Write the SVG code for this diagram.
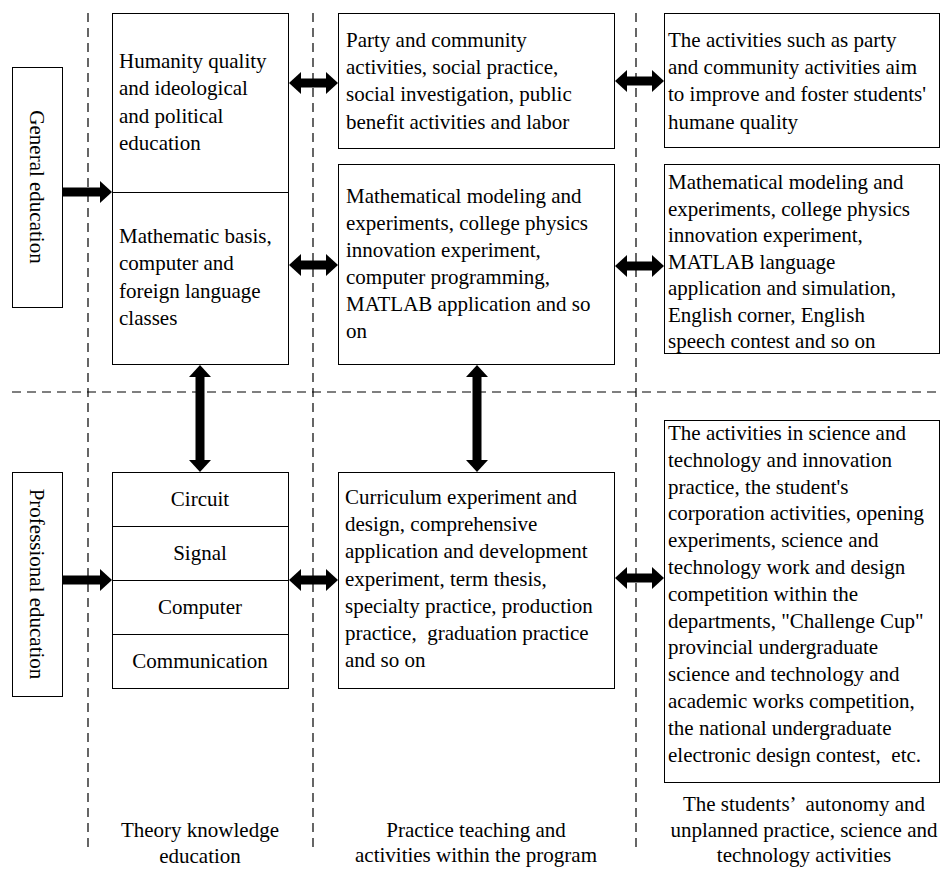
<svg xmlns="http://www.w3.org/2000/svg" width="941" height="872" viewBox="0 0 941 872">
<style>
.box{fill:#fff;stroke:#000;stroke-width:1}
.div{stroke:#000;stroke-width:1}
.dash{stroke:#000;stroke-width:1.2;stroke-dasharray:9 6;fill:none}
text{font-family:"Liberation Serif","Times New Roman",serif;font-size:21px;fill:#000;white-space:pre}
.c{text-anchor:middle}
.shaft{stroke:#000;stroke-width:9;fill:none}
</style>
<defs>
<marker id="ah" markerWidth="12" markerHeight="22" refX="6" refY="11" orient="auto-start-reverse" markerUnits="userSpaceOnUse">
<path d="M0,0 L12,11 L0,22 z" fill="#000"/>
</marker>
</defs>
<rect width="941" height="872" fill="#fff"/>
<g id="grid">
<line class="dash" x1="88" y1="13" x2="88" y2="852"/>
<line class="dash" x1="313" y1="13" x2="313" y2="852"/>
<line class="dash" x1="636" y1="13" x2="636" y2="852"/>
<line class="dash" x1="12" y1="392" x2="941" y2="392"/>
</g>
<g id="general">
<rect class="box" x="12.5" y="67.5" width="50" height="240"/>
<text class="c" transform="translate(37,187) rotate(90)" dominant-baseline="central">General education</text>
</g>
<g id="professional">
<rect class="box" x="12.5" y="472.5" width="50" height="224"/>
<text class="c" transform="translate(37,584) rotate(90)" dominant-baseline="central">Professional education</text>
</g>
<g id="theory-general">
<rect class="box" x="112.5" y="13.5" width="176" height="351"/>
<line class="div" x1="112.5" y1="192.5" x2="288.5" y2="192.5"/>
<text x="119" y="68">Humanity quality</text>
<text x="119" y="95.3">and ideological</text>
<text x="119" y="122.6">and political</text>
<text x="119" y="150">education</text>
<text x="119" y="243">Mathematic basis,</text>
<text x="119" y="270.3">computer and</text>
<text x="119" y="297.6">foreign language</text>
<text x="119" y="325">classes</text>
</g>
<g id="theory-professional">
<rect class="box" x="112.5" y="472.5" width="176" height="216"/>
<line class="div" x1="112.5" y1="526.5" x2="288.5" y2="526.5"/>
<line class="div" x1="112.5" y1="580.5" x2="288.5" y2="580.5"/>
<line class="div" x1="112.5" y1="634.5" x2="288.5" y2="634.5"/>
<text class="c" x="200" y="506">Circuit</text>
<text class="c" x="200" y="560">Signal</text>
<text class="c" x="200" y="614">Computer</text>
<text class="c" x="200" y="668">Communication</text>
</g>
<g id="practice-1">
<rect class="box" x="338.5" y="13.5" width="276" height="135"/>
<text x="346" y="47">Party and community</text>
<text x="346" y="74.2">activities, social practice,</text>
<text x="346" y="101.4">social investigation, public</text>
<text x="346" y="128.6">benefit activities and labor</text>
</g>
<g id="practice-2">
<rect class="box" x="338.5" y="164.5" width="276" height="200"/>
<text x="346" y="203">Mathematical modeling and</text>
<text x="346" y="230">experiments, college physics</text>
<text x="346" y="257">innovation experiment,</text>
<text x="346" y="284">computer programming,</text>
<text x="346" y="311">MATLAB application and so</text>
<text x="346" y="338">on</text>
</g>
<g id="practice-3">
<rect class="box" x="338.5" y="472.5" width="276" height="216"/>
<text x="345" y="504">Curriculum experiment and</text>
<text x="345" y="531">design, comprehensive</text>
<text x="345" y="558">application and development</text>
<text x="345" y="585.5">experiment, term thesis,</text>
<text x="345" y="612.5">specialty practice, production</text>
<text x="345" y="639.5">practice,  graduation practice</text>
<text x="345" y="666.5">and so on</text>
</g>
<g id="auto-1">
<rect class="box" x="664.5" y="13.5" width="275" height="134"/>
<text x="668" y="47">The activities such as party</text>
<text x="668" y="74.2">and community activities aim</text>
<text x="668" y="101.4">to improve and foster students'</text>
<text x="668" y="128.6">humane quality</text>
</g>
<g id="auto-2">
<rect class="box" x="664.5" y="164.5" width="275" height="189"/>
<text x="668" y="189">Mathematical modeling and</text>
<text x="668" y="215.5">experiments, college physics</text>
<text x="668" y="242">innovation experiment,</text>
<text x="668" y="268.5">MATLAB language</text>
<text x="668" y="295">application and simulation,</text>
<text x="668" y="321.5">English corner, English</text>
<text x="668" y="348">speech contest and so on</text>
</g>
<g id="auto-3">
<rect class="box" x="664.5" y="420.5" width="275" height="362"/>
<text x="668" y="440">The activities in science and</text>
<text x="668" y="466.8">technology and innovation</text>
<text x="668" y="493.6">practice, the student's</text>
<text x="668" y="520.4">corporation activities, opening</text>
<text x="668" y="547.2">experiments, science and</text>
<text x="668" y="574">technology work and design</text>
<text x="668" y="600.8">competition within the</text>
<text x="668" y="627.6">departments, "Challenge Cup"</text>
<text x="668" y="654.4">provincial undergraduate</text>
<text x="668" y="681.2">science and technology and</text>
<text x="668" y="708">academic works competition,</text>
<text x="668" y="734.8">the national undergraduate</text>
<text x="668" y="761.6">electronic design contest,  etc.</text>
</g>
<g id="labels">
<text class="c" x="200" y="837">Theory knowledge</text>
<text class="c" x="200" y="863">education</text>
<text class="c" x="476" y="837">Practice teaching and</text>
<text class="c" x="476" y="862">activities within the program</text>
<text class="c" x="804" y="811">The students’  autonomy and</text>
<text class="c" x="804" y="837">unplanned practice, science and</text>
<text class="c" x="804" y="862">technology activities</text>
</g>
<g id="connectors">
<line class="shaft" x1="62" y1="192" x2="106" y2="192" marker-end="url(#ah)"/>
<line class="shaft" x1="62" y1="580" x2="106" y2="580" marker-end="url(#ah)"/>
<line class="shaft" x1="295" y1="83" x2="332" y2="83" marker-start="url(#ah)" marker-end="url(#ah)"/>
<line class="shaft" x1="295" y1="265" x2="332" y2="265" marker-start="url(#ah)" marker-end="url(#ah)"/>
<line class="shaft" x1="295" y1="580" x2="332" y2="580" marker-start="url(#ah)" marker-end="url(#ah)"/>
<line class="shaft" x1="621" y1="81" x2="658" y2="81" marker-start="url(#ah)" marker-end="url(#ah)"/>
<line class="shaft" x1="621" y1="266" x2="658" y2="266" marker-start="url(#ah)" marker-end="url(#ah)"/>
<line class="shaft" x1="621" y1="578" x2="658" y2="578" marker-start="url(#ah)" marker-end="url(#ah)"/>
<line class="shaft" x1="200" y1="371" x2="200" y2="466" marker-start="url(#ah)" marker-end="url(#ah)"/>
<line class="shaft" x1="477" y1="371" x2="477" y2="466" marker-start="url(#ah)" marker-end="url(#ah)"/>
</g>
</svg>
